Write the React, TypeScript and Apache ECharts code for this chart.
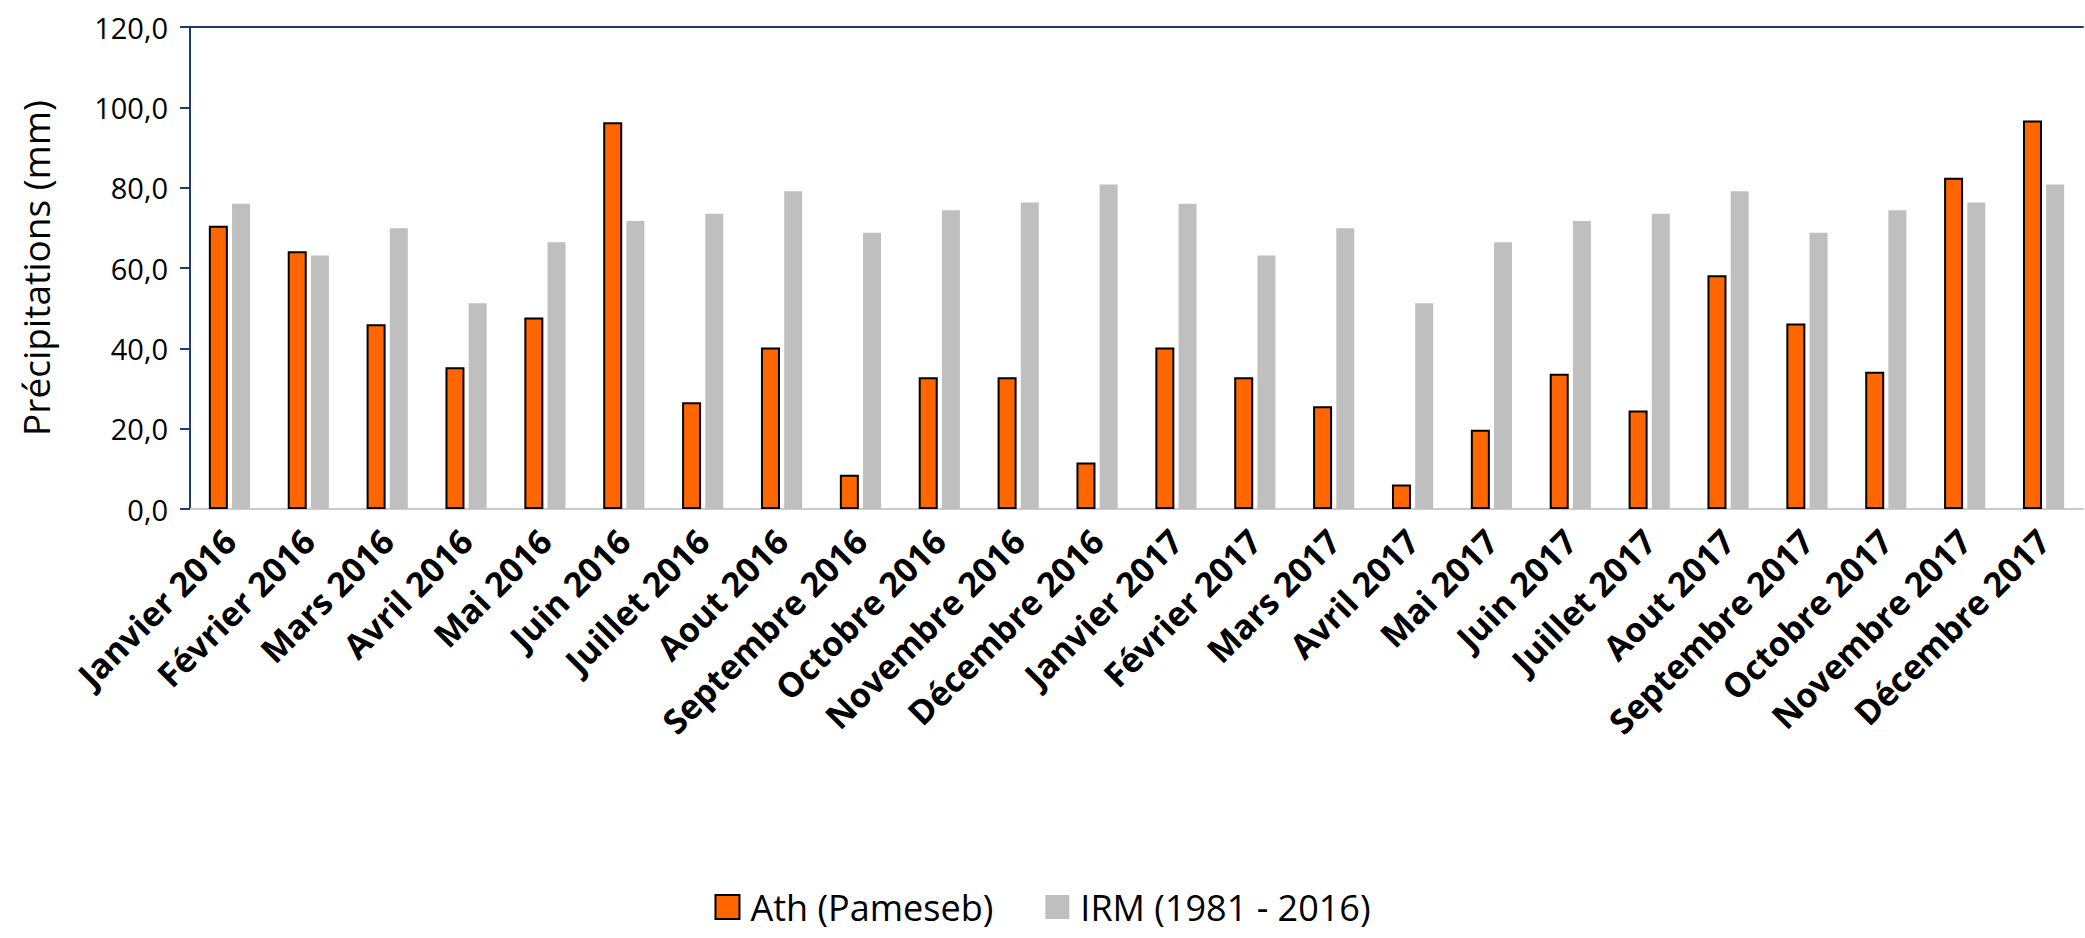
import React, { useEffect, useRef } from "react";
import * as echarts from "echarts";

const categories = [
  "Janvier 2016", "Février 2016", "Mars 2016", "Avril 2016", "Mai 2016", "Juin 2016",
  "Juillet 2016", "Aout 2016", "Septembre 2016", "Octobre 2016", "Novembre 2016", "Décembre 2016",
  "Janvier 2017", "Février 2017", "Mars 2017", "Avril 2017", "Mai 2017", "Juin 2017",
  "Juillet 2017", "Aout 2017", "Septembre 2017", "Octobre 2017", "Novembre 2017", "Décembre 2017",
];

const athPameseb = [
  70.5, 64.2, 46.0, 35.3, 47.7, 96.3, 26.6, 40.2, 8.5, 32.8, 32.8, 11.6,
  40.2, 32.8, 25.6, 6.1, 19.7, 33.7, 24.5, 58.2, 46.2, 34.2, 82.5, 96.7,
];

const irm19812016 = [
  76.0, 63.1, 69.9, 51.2, 66.4, 71.7, 73.5, 79.1, 68.8, 74.4, 76.3, 80.8,
  76.0, 63.1, 69.9, 51.2, 66.4, 71.7, 73.5, 79.1, 68.8, 74.4, 76.3, 80.8,
];

const seriesNames = ["Ath (Pameseb)", "IRM (1981 - 2016)"];
const yTitle = "Précipitations (mm)";

const FONT = "'Open Sans', 'Noto Sans', sans-serif";

export default function App() {
  const ref = useRef<HTMLDivElement>(null);

  useEffect(() => {
    document.body.style.margin = "0";
    if (!ref.current) return;
    const chart = echarts.init(ref.current, null, { renderer: "svg" });
    chart.setOption({
      animation: false,
      backgroundColor: "#ffffff",
      grid: { left: 190, right: 2, top: 27, bottom: 429, containLabel: false },
      legend: {
        top: 886,
        left: "center",
        padding: 0,
        icon: "rect",
        itemWidth: 24,
        itemHeight: 24,
        itemGap: 52,
        textStyle: {
          fontFamily: FONT,
          fontSize: 36,
          lineHeight: 42,
          color: "#000",
          padding: [0, 0, 0, 6],
        },
        data: seriesNames,
      },
      xAxis: [
        {
          type: "category",
          data: categories,
          axisLine: { show: true, lineStyle: { color: "#C8CBD3", width: 2 } },
          axisTick: { show: false },
          axisLabel: {
            rotate: 45,
            interval: 0,
            margin: 26,
            fontFamily: FONT,
            fontWeight: "bold",
            fontSize: 34,
            color: "#000",
          },
        },
        {
          type: "category",
          data: categories,
          position: "top",
          axisLine: { show: true, lineStyle: { color: "#1F3B73", width: 2 } },
          axisTick: { show: false },
          axisLabel: { show: false },
        },
      ],
      yAxis: {
        type: "value",
        min: 0,
        max: 120,
        interval: 20,
        name: yTitle,
        nameLocation: "middle",
        nameGap: 136,
        nameTextStyle: { fontFamily: FONT, fontSize: 37, color: "#000" },
        axisLine: { show: true, lineStyle: { color: "#1F3B73", width: 2 } },
        axisTick: { show: true, length: 10, lineStyle: { color: "#1F3B73", width: 2 } },
        splitLine: { show: false },
        axisLabel: {
          margin: 22,
          fontFamily: FONT,
          fontSize: 29,
          color: "#000",
          formatter: (v: number) => v.toFixed(1).replace(".", ","),
        },
      },
      series: [
        {
          name: seriesNames[0],
          type: "bar",
          data: athPameseb,
          barWidth: 19,
          barGap: "22%",
          itemStyle: { color: "#FF6600", borderColor: "#000000", borderWidth: 2 },
        },
        {
          name: seriesNames[1],
          type: "bar",
          data: irm19812016,
          barWidth: 18,
          itemStyle: { color: "#BFBFBF" },
        },
      ],
    });
    return () => chart.dispose();
  }, []);

  return <div ref={ref} style={{ width: 2085, height: 938 }} />;
}
